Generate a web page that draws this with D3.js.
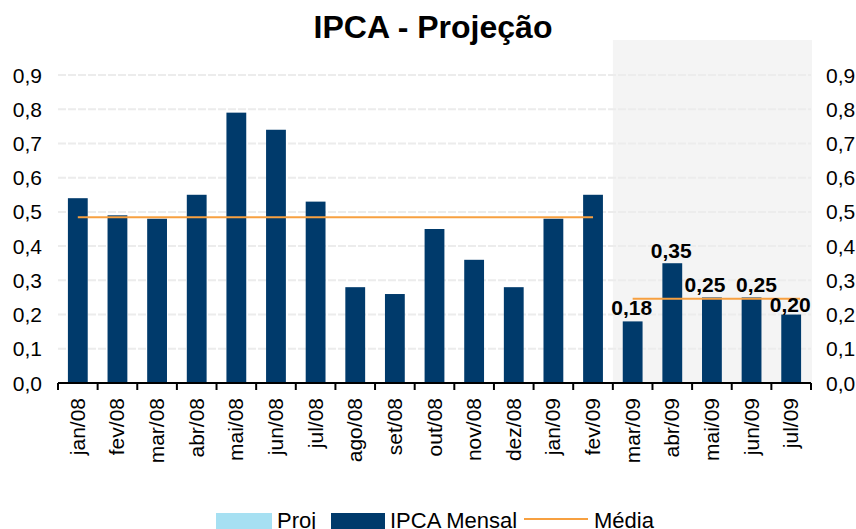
<!DOCTYPE html>
<html>
<head>
<meta charset="utf-8">
<script src="https://cdn.jsdelivr.net/npm/d3@7"></script>
<style>
  body { margin: 0; background: #fff; }
  text { font-family: "Liberation Sans", Arial, sans-serif; fill: #000; }
</style>
</head>
<body>
<script>
/* data */
var meses = ['jan/08', 'fev/08', 'mar/08', 'abr/08', 'mai/08', 'jun/08', 'jul/08', 'ago/08',
  'set/08', 'out/08', 'nov/08', 'dez/08', 'jan/09', 'fev/09', 'mar/09', 'abr/09', 'mai/09',
  'jun/09', 'jul/09'];
var ipcaMensal = [0.54, 0.49, 0.48, 0.55, 0.79, 0.74, 0.53, 0.28, 0.26, 0.45, 0.36, 0.28,
  0.48, 0.55, 0.18, 0.35, 0.25, 0.25, 0.20];
var projMeses = ['mar/09', 'abr/09', 'mai/09', 'jun/09', 'jul/09'];
var mediaHist = 0.484;
var mediaProj = 0.246;
var yTicks = [0, 0.1, 0.2, 0.3, 0.4, 0.5, 0.6, 0.7, 0.8, 0.9];

/* canvas */
var width = 856;
var height = 529;
var margin = { top: 75, right: 45, bottom: 146, left: 58 };
var innerWidth = width - margin.left - margin.right;
var innerHeight = height - margin.top - margin.bottom;

var svg = d3.select('body').append('svg')
  .attr('width', width)
  .attr('height', height);

var g = svg.append('g')
  .attr('transform', 'translate(' + margin.left + ',' + margin.top + ')');

var x = d3.scaleBand().domain(meses).range([0, innerWidth]).paddingInner(0.5).paddingOuter(0.25);
var y = d3.scaleLinear().domain([0, 0.9]).range([innerHeight, 0]);
var fmt = function (v, n) { return v.toFixed(n).replace('.', ','); };

var step = x.step();
var bandStart = function (m) { return x(m) - step * 0.25; };

/* shaded projection area */
g.append('rect')
  .attr('x', bandStart(projMeses[0]))
  .attr('y', -35)
  .attr('width', innerWidth - bandStart(projMeses[0]) + 1)
  .attr('height', innerHeight + 35)
  .attr('fill', '#f4f4f4');

/* gridlines */
g.selectAll('.grid').data(yTicks.slice(1)).enter().append('line')
  .attr('x1', 0).attr('x2', innerWidth)
  .attr('y1', function (d) { return y(d); })
  .attr('y2', function (d) { return y(d); })
  .attr('stroke', '#ececec')
  .attr('stroke-width', 2)
  .attr('stroke-dasharray', '8,2');

/* bars */
g.selectAll('.bar').data(meses).enter().append('rect')
  .attr('x', function (d) { return x(d); })
  .attr('y', function (d, i) { return y(ipcaMensal[i]); })
  .attr('width', x.bandwidth())
  .attr('height', function (d, i) { return innerHeight - y(ipcaMensal[i]); })
  .attr('fill', '#003a6b');

/* mean lines */
var cx = function (m) { return x(m) + x.bandwidth() / 2; };
g.append('line')
  .attr('x1', cx(meses[0])).attr('x2', cx('fev/09'))
  .attr('y1', y(mediaHist)).attr('y2', y(mediaHist))
  .attr('stroke', '#f7a040').attr('stroke-width', 2);
g.append('line')
  .attr('x1', cx(projMeses[0])).attr('x2', cx(projMeses[projMeses.length - 1]) + 9)
  .attr('y1', y(mediaProj)).attr('y2', y(mediaProj))
  .attr('stroke', '#f7a040').attr('stroke-width', 2);

/* data labels for projection (nudged apart like the original) */
var nudgeX = [-1, -1, -7, 5, -1];
var nudgeY = [-6, -5, -5, -5, -3];
g.selectAll('.lbl').data(projMeses).enter().append('text')
  .attr('x', function (d, i) { return cx(d) + nudgeX[i]; })
  .attr('y', function (d, i) { return y(ipcaMensal[meses.indexOf(d)]) + nudgeY[i]; })
  .attr('text-anchor', 'middle')
  .style('font-size', '21px')
  .style('font-weight', 'bold')
  .text(function (d) { return fmt(ipcaMensal[meses.indexOf(d)], 2); });

/* x axis */
var xAxis = g.append('g').attr('transform', 'translate(0,' + innerHeight + ')');
xAxis.append('line').attr('x1', 0).attr('x2', innerWidth).attr('stroke', '#000').attr('stroke-width', 2);
xAxis.selectAll('.tick').data(meses.concat(['fim'])).enter().append('line')
  .attr('x1', function (d, i) { return i * step; })
  .attr('x2', function (d, i) { return i * step; })
  .attr('y1', 0).attr('y2', 7)
  .attr('stroke', '#000').attr('stroke-width', 2);
xAxis.selectAll('.xl').data(meses).enter().append('text')
  .attr('transform', function (d) { return 'translate(' + (cx(d) + 7) + ',15) rotate(-90)'; })
  .attr('text-anchor', 'end')
  .style('font-size', '21px')
  .text(function (d) { return d; });

/* y axes */
g.selectAll('.yl').data(yTicks).enter().append('text')
  .attr('x', -16)
  .attr('y', function (d) { return y(d) + 7.5; })
  .attr('text-anchor', 'end')
  .style('font-size', '21px')
  .text(function (d) { return fmt(d, 1); });
g.selectAll('.yr').data(yTicks).enter().append('text')
  .attr('x', innerWidth + 15)
  .attr('y', function (d) { return y(d) + 7.5; })
  .attr('text-anchor', 'start')
  .style('font-size', '21px')
  .text(function (d) { return fmt(d, 1); });

/* title */
svg.append('text')
  .attr('x', 433).attr('y', 38)
  .attr('text-anchor', 'middle')
  .style('font-size', '32px')
  .style('font-weight', 'bold')
  .text('IPCA - Projeção');

/* legend */
var legend = svg.append('g').attr('transform', 'translate(0,' + 520 + ')');
legend.append('rect').attr('x', 216).attr('y', -7).attr('width', 56).attr('height', 18).attr('fill', '#a6e0f2');
legend.append('text').attr('x', 277).attr('y', 8).style('font-size', '22px').text('Proj');
legend.append('rect').attr('x', 331).attr('y', -7).attr('width', 54).attr('height', 18).attr('fill', '#003a6b');
legend.append('text').attr('x', 390).attr('y', 8).style('font-size', '22px').text('IPCA Mensal');
legend.append('line').attr('x1', 524).attr('x2', 588).attr('y1', -1).attr('y2', -1)
  .attr('stroke', '#f7a040').attr('stroke-width', 2);
legend.append('text').attr('x', 594).attr('y', 8).style('font-size', '22px').text('Média');
</script>
</body>
</html>
